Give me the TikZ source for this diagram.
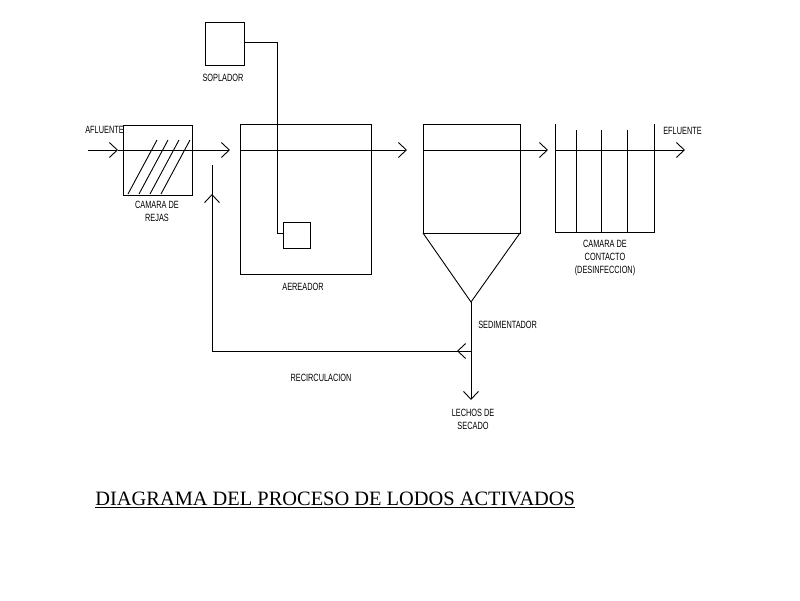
\documentclass[tikz,border=0pt]{standalone}
\usepackage{fontspec}
\setmainfont{Liberation Serif}
\newfontfamily\lab{Liberation Sans}
\usetikzlibrary{arrows.meta}
\begin{document}
\begin{tikzpicture}[x=1pt,y=-1pt,line width=0.9pt,
  tip/.style={-{Straight Barb[length=8pt,width=15pt,line width=0.9pt]}},
  lbl/.style={font=\lab\fontsize{10.5}{13}\selectfont,xscale=0.7,align=center,inner sep=0pt}]
\useasboundingbox[fill=white] (0,0) rectangle (800,600);
% main flow line
\draw[tip] (88,150) -- (118,150);
\draw[tip] (118,150) -- (230,150);
\draw[tip] (240,150) -- (407,150);
\draw[tip] (423,150) -- (548,150);
\draw[tip] (555,150) -- (685,150);
% screen chamber
\draw (123,125) rectangle (192,195);
\foreach \d in {0,11,22,33} \draw (128+\d,194) -- (157+\d,140);
\node[lbl,anchor=west] at (85,130) {AFLUENTE};
\node[lbl] at (157,211) {CAMARA DE\\REJAS};
% blower
\draw (205,22) rectangle (244,65);
\node[lbl] at (223,78) {SOPLADOR};
\draw (244,42) -- (277,42) -- (277,233) -- (283,233);
\draw (283,222) rectangle (310,248);
% aerator
\draw (240,124) rectangle (371,274);
\node[lbl] at (303,287) {AEREADOR};
% sedimentation
\draw (423,124) rectangle (520,233);
\draw (423,233) -- (471,302) -- (520,233);
\draw[tip] (471,302) -- (471,400);
\node[lbl,anchor=west] at (478,325) {SEDIMENTADOR};
\node[lbl] at (473,419) {LECHOS DE\\SECADO};
% recirculation
\draw[tip] (471,351) -- (457,351);
\draw (459,351) -- (212,351) -- (212,195);
\draw[tip] (212,215) -- (212,194);
\draw (212,196) -- (212,165);
\node[lbl] at (321,378) {RECIRCULACION};
% contact chamber
\draw (555,124) -- (555,232) -- (654,232) -- (654,124);
\foreach \x in {576,601,627} \draw (\x,130) -- (\x,232);
\node[lbl] at (605,258) {CAMARA DE\\CONTACTO\\(DESINFECCION)};
\node[lbl,anchor=west] at (663,131) {EFLUENTE};
% title
\node[inner sep=0pt,anchor=west,font=\fontsize{20.4}{24}\selectfont] at (95,500) {\underline{DIAGRAMA DEL PROCESO DE LODOS ACTIVADOS}};
\end{tikzpicture}
\end{document}
